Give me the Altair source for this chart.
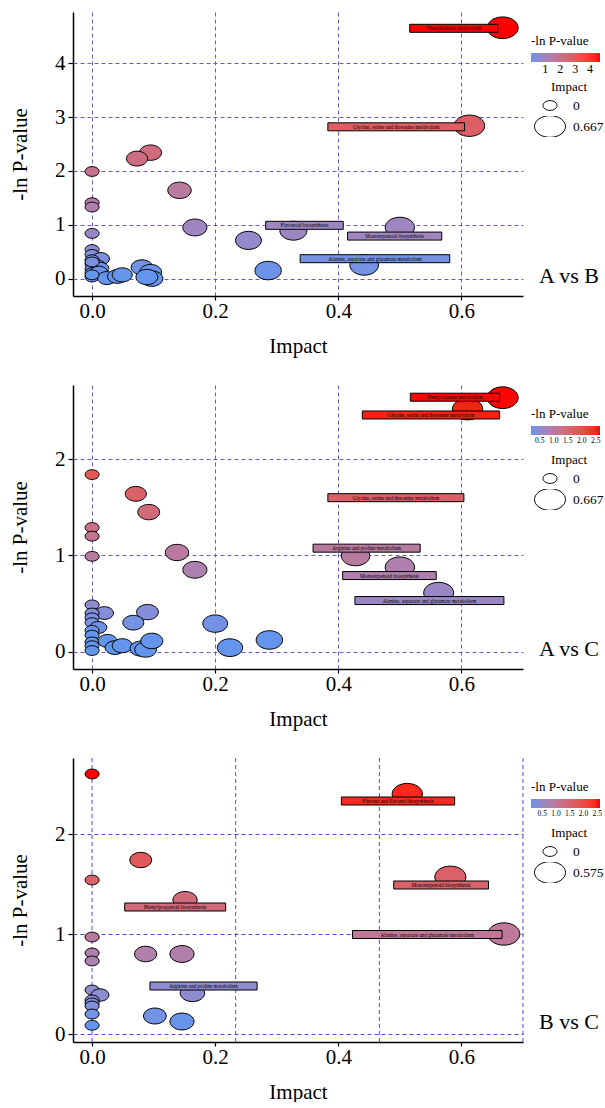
import altair as alt
import pandas as pd

# ---------------- Panel 1 : A vs B ----------------
ab_impact = [0.667, 0.613, 0.095, 0.073, 0.000, 0.142, 0.000, 0.000, 0.167, 0.000, 0.254, 0.327, 0.500, 0.442, 0.286,
             0.000, 0.000, 0.014, 0.000, 0.000, 0.008, 0.000, 0.013, 0.000, 0.011, 0.000, 0.024, 0.041, 0.049, 0.081,
             0.095, 0.097, 0.089, 0.000, 0.000]
ab_lnp = [4.66, 2.84, 2.34, 2.23, 1.99, 1.64, 1.41, 1.33, 0.95, 0.84, 0.71, 0.89, 0.95, 0.25, 0.15,
          0.54, 0.45, 0.37, 0.35, 0.27, 0.24, 0.18, 0.19, 0.11, 0.12, 0.03, 0.01, 0.04, 0.07, 0.21,
          0.12, 0.00, 0.03, 0.07, 0.31]
ab_names = ["Phenylalanine metabolism", "Glycine, serine and threonine metabolism", "Flavonoid biosynthesis",
            "Monoterpenoid biosynthesis", "Alanine, aspartate and glutamate metabolism"]
ab_x1 = [0.516, 0.383, 0.282, 0.415, 0.338]
ab_x2 = [0.659, 0.605, 0.408, 0.568, 0.581]
ab_yb = [4.65, 2.82, 0.99, 0.79, 0.37]
ab_pv = [4.66, 2.84, 0.89, 0.95, 0.25]

# ---------------- Panel 2 : A vs C ----------------
ac_impact = [0.667, 0.610, 0.428, 0.500, 0.563, 0.000, 0.071, 0.092, 0.000, 0.000, 0.000, 0.138, 0.167,
             0.000, 0.020, 0.000, 0.000, 0.000, 0.010, 0.000, 0.000, 0.000, 0.000, 0.090, 0.067, 0.200,
             0.025, 0.037, 0.049, 0.079, 0.087, 0.097, 0.224, 0.288, 0.000]
ac_lnp = [2.64, 2.52, 0.995, 0.877, 0.61, 1.84, 1.64, 1.45, 1.29, 1.20, 0.99, 1.03, 0.85,
          0.485, 0.40, 0.40, 0.35, 0.30, 0.25, 0.22, 0.17, 0.10, 0.06, 0.41, 0.30, 0.29,
          0.11, 0.04, 0.06, 0.03, 0.02, 0.11, 0.04, 0.12, 0.01]
ac_names = ["Phenylalanine metabolism", "Glycine, serine and threonine metabolism",
            "Glycine, serine and threonine metabolism", "Arginine and proline metabolism",
            "Monoterpenoid biosynthesis", "Alanine, aspartate and glutamate metabolism"]
ac_x1 = [0.517, 0.439, 0.383, 0.359, 0.407, 0.427]
ac_x2 = [0.662, 0.662, 0.604, 0.533, 0.559, 0.669]
ac_yb = [2.645, 2.46, 1.60, 1.075, 0.79, 0.53]
ac_pv = [2.64, 2.52, 1.64, 0.995, 0.877, 0.61]

# ---------------- Panel 3 : B vs C ----------------
bc_impact = [0.000, 0.079, 0.000, 0.151, 0.512, 0.582, 0.669, 0.000, 0.000, 0.000, 0.087, 0.146,
             0.000, 0.013, 0.000, 0.000, 0.000, 0.000, 0.000, 0.163, 0.102, 0.146]
bc_lnp = [2.60, 1.74, 1.54, 1.34, 2.40, 1.57, 1.00, 0.97, 0.81, 0.73, 0.80, 0.80,
          0.44, 0.39, 0.34, 0.31, 0.28, 0.20, 0.087, 0.41, 0.18, 0.125]
bc_names = ["Flavone and flavonol biosynthesis", "Monoterpenoid biosynthesis", "Phenylpropanoid biosynthesis",
            "Alanine, aspartate and glutamate metabolism", "Arginine and proline metabolism"]
bc_x1 = [0.405, 0.490, 0.053, 0.423, 0.094]
bc_x2 = [0.589, 0.644, 0.217, 0.666, 0.268]
bc_yb = [2.33, 1.49, 1.27, 0.995, 0.48]
bc_pv = [2.40, 1.57, 1.34, 1.00, 0.41]
bc_xgrid = [0.0, 0.2333, 0.4667, 0.70]

x_ticks = [0.0, 0.2, 0.4, 0.6]

FONT = "Liberation Serif"
ELLIPSE = ("M1,0 C1,0.3866 0.5523,0.7 0,0.7 C-0.5523,0.7 -1,0.3866 -1,0 "
           "C-1,-0.3866 -0.5523,-0.7 0,-0.7 C0.5523,-0.7 1,-0.3866 1,0 Z")
X_DOMAIN = [-0.031, 0.70]
W, H = 450, 284


def panel(impact, lnp, names, x1, x2, yb, pv, ydom, yvals, cdom, cvals, cfmt, clab,
          sdom, svals, label, gridcolor, xgrid=None):
    pts = pd.DataFrame({"Impact": impact, "lnP": lnp})
    labs = pd.DataFrame({"name": names, "x1": x1, "x2": x2, "yb": yb, "pv": pv})
    xscale = alt.Scale(domain=X_DOMAIN, nice=False, zero=False)
    yscale = alt.Scale(domain=ydom, nice=False, zero=False)
    cscale = alt.Scale(domain=cdom, range=["#6495ED", "#FF0000"], interpolate="lab", clamp=True)
    xaxis = alt.Axis(values=x_ticks, format=".1f", grid=xgrid is None, gridDash=[4, 3],
                     gridColor=gridcolor)
    yaxis = alt.Axis(values=yvals, format="d", grid=True, gridDash=[4, 3], gridColor=gridcolor)

    layers = []
    if xgrid is not None:
        gr = alt.Chart(pd.DataFrame({"g": xgrid})).mark_rule(
            color=gridcolor, strokeDash=[4, 3], strokeWidth=1
        ).encode(x=alt.X("g:Q", scale=xscale, axis=xaxis, title="Impact"))
        layers.append(gr)

    points = alt.Chart(pts).mark_point(
        shape=ELLIPSE, filled=True, opacity=1, stroke="black", strokeWidth=1
    ).encode(
        x=alt.X("Impact:Q", scale=xscale, axis=xaxis, title="Impact"),
        y=alt.Y("lnP:Q", scale=yscale, axis=yaxis, title="-ln P-value"),
        color=alt.Color("lnP:Q", scale=cscale, legend=alt.Legend(
            title="-ln P-value", orient="none", legendX=458, legendY=23, direction="horizontal",
            gradientLength=69, gradientThickness=9, values=cvals, format=cfmt,
            labelFontSize=clab, labelOverlap=False, titlePadding=5)),
        size=alt.Size("Impact:Q", scale=alt.Scale(type="sqrt", domain=sdom, range=[196, 961]),
                      legend=alt.Legend(title="Impact", orient="none", legendX=461, legendY=69,
                                        values=svals, format=".3~f", symbolType=ELLIPSE,
                                        symbolFillColor="white", symbolStrokeColor="black",
                                        symbolStrokeWidth=1, titleAnchor="middle", labelFontSize=13.5,
                                        labelOffset=7, rowPadding=0, titlePadding=1, clipHeight=21)),
    )
    layers.append(points)

    bars = alt.Chart(labs).mark_bar(size=8, stroke="black", strokeWidth=1, opacity=1).encode(
        x=alt.X("x1:Q", scale=xscale, title="Impact"),
        x2="x2:Q",
        y=alt.Y("yb:Q", scale=yscale, title="-ln P-value"),
        color=alt.Color("pv:Q", scale=cscale, legend=None),
    )
    layers.append(bars)

    texts = alt.Chart(labs).transform_calculate(xc="(datum.x1 + datum.x2) / 2").mark_text(
        font=FONT, fontSize=5.2, color="black"
    ).encode(
        x=alt.X("xc:Q", scale=xscale, title="Impact"),
        y=alt.Y("yb:Q", scale=yscale, title="-ln P-value"),
        text="name:N",
    )
    layers.append(texts)

    plabel = alt.Chart(pd.DataFrame({"t": [label]})).mark_text(
        font=FONT, fontSize=22, color="black", align="center", baseline="middle"
    ).encode(x=alt.value(496), y=alt.value(264), text="t:N")
    layers.append(plabel)

    return alt.layer(*layers).properties(width=W, height=H)


p1 = panel(ab_impact, ab_lnp, ab_names, ab_x1, ab_x2, ab_yb, ab_pv,
           [-0.23, 4.86], [0, 1, 2, 3, 4], [0.05, 4.66], [1, 2, 3, 4], "d", 12,
           [0, 0.667], [0, 0.667], "A vs B", "#6A5ACD")
p2 = panel(ac_impact, ac_lnp, ac_names, ac_x1, ac_x2, ac_yb, ac_pv,
           [-0.13, 2.72], [0, 1, 2], [0.19, 2.65], [0.5, 1.0, 1.5, 2.0, 2.5], ".1f", 7.5,
           [0, 0.667], [0, 0.667], "A vs C", "#6A5ACD")
p3 = panel(bc_impact, bc_lnp, bc_names, bc_x1, bc_x2, bc_yb, bc_pv,
           [-0.03, 2.71], [0, 1, 2], [0.09, 2.60], [0.5, 1.0, 1.5, 2.0, 2.5], ".1f", 7.5,
           [0, 0.575], [0, 0.575], "B vs C", "#4B4BF0", xgrid=bc_xgrid)

chart = alt.vconcat(p1, p2, p3, spacing=28).resolve_scale(
    x="independent", y="independent", color="independent", size="independent"
).resolve_legend(color="independent", size="independent").configure_view(
    stroke=None
).configure_axis(
    labelFont=FONT, titleFont=FONT, labelFontSize=21, titleFontSize=21, titleFontWeight="normal",
    labelColor="black", titleColor="black", domainColor="black", domainWidth=1.5,
    tickColor="black", tickWidth=1.2, gridWidth=1
).configure_axisX(
    tickSize=4, labelPadding=0, titlePadding=14
).configure_axisY(
    tickSize=5, labelPadding=3, titlePadding=24
).configure_legend(
    titleFont=FONT, labelFont=FONT, titleFontSize=13, titleFontWeight="normal",
    titleColor="black", labelColor="black"
).properties(padding={"left": 9, "top": 12, "right": 0, "bottom": 0})

chart.save("out.html", embed_options={"renderer": "svg", "actions": False})
